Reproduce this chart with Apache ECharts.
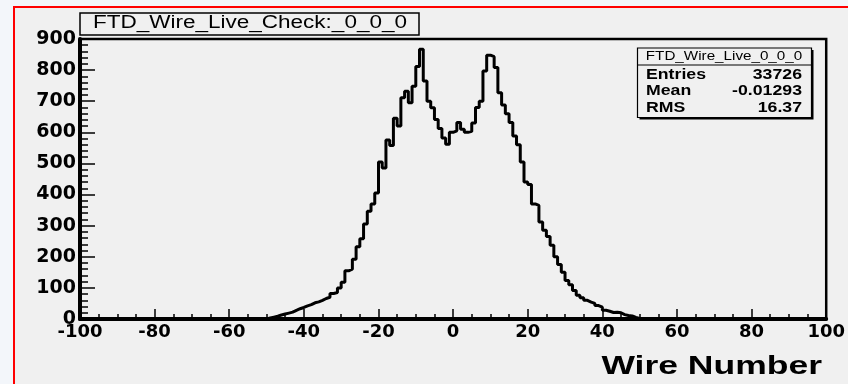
<!DOCTYPE html>
<html>
<head>
<meta charset="utf-8">
<script src="https://cdn.jsdelivr.net/npm/echarts@6/dist/echarts.min.js"></script>
<style>
html,body{margin:0;padding:0;background:#f3f6fa;}
#chart{width:848px;height:384px;}
</style>
</head>
<body>
<div id="chart"></div>
<script>
// ---- data ----
const histTitle = "FTD_Wire_Live_Check:_0_0_0";
const statsName = "FTD_Wire_Live_0_0_0";
const statsLabels = ["Entries", "Mean", "RMS"];
const statsValues = ["33726", "-0.01293", "16.37"];
const xAxisTitle = "Wire Number";
const xRange = [-100, 100];
const yRange = [0, 900];
const firstBin = -50;            // low edge of the first filled bin (bin width 1)
const binCounts = [
  3, 6, 9, 13, 16, 19, 22, 28, 33, 37,          // -50 .. -41
  42, 46, 52, 55, 60, 66, 70, 82, 85, 100,      // -40 .. -31
  118, 155, 160, 192, 232, 258, 305, 346, 370, 405, // -30 .. -21
  505, 485, 575, 558, 645, 620, 711, 732, 695, 748, // -20 .. -11
  812, 867, 765, 700, 679, 641, 612, 582, 562, 600, // -10 .. -1
  605, 632, 610, 600, 603, 630, 680, 700, 797, 848, // 0 .. 9
  843, 808, 727, 688, 660, 632, 588, 560, 505, 440, // 10 .. 19
  432, 370, 365, 312, 285, 265, 237, 200, 175, 150, // 20 .. 29
  124, 110, 92, 76, 68, 60, 54, 50, 43, 38,     // 30 .. 39
  28, 25, 21, 22, 20, 14, 11, 10, 5, 2          // 40 .. 49
];

// ---- build step data over the full axis range (empty bins = 0) ----
const stepData = [];
for (let v = xRange[0]; v < xRange[1]; v++) {
  const i = v - firstBin;
  stepData.push([v, (i >= 0 && i < binCounts.length) ? binCounts[i] : 0]);
}
stepData.push([xRange[1], 0]);

const chart = echarts.init(document.getElementById('chart'), null, {renderer: 'canvas'});
const tickFont = 'DejaVu Sans';
const boxFont = '"Liberation Sans", Arial, sans-serif';

const option = {
  animation: false,
  backgroundColor: '#f3f6fa',
  grid: {
    left: 80, right: 21, top: 39, bottom: 65,
    show: true, borderColor: '#000', borderWidth: 2.5, backgroundColor: 'transparent'
  },
  xAxis: {
    type: 'value', min: xRange[0], max: xRange[1], interval: 20,
    axisLine: {show: true, onZero: false, lineStyle: {color: '#000', width: 4}},
    axisTick: {show: true, inside: true, length: 10, lineStyle: {color: '#000', width: 1.5}},
    minorTick: {show: true, splitNumber: 4, length: 5, lineStyle: {color: '#000', width: 1.5}},
    splitLine: {show: false},
    axisLabel: {show: true, color: '#000', fontFamily: tickFont, fontWeight: 'bold', fontSize: 18, margin: 4,
                showMinLabel: true, showMaxLabel: true}
  },
  yAxis: {
    type: 'value', min: yRange[0], max: yRange[1], interval: 100,
    axisLine: {show: true, onZero: false, lineStyle: {color: '#000', width: 4}},
    axisTick: {show: true, inside: true, length: 15, lineStyle: {color: '#000', width: 1.5}},
    minorTick: {show: true, splitNumber: 5, length: 8, lineStyle: {color: '#000', width: 1.5}},
    splitLine: {show: false},
    axisLabel: {show: true, color: '#000', fontFamily: tickFont, fontWeight: 'bold', fontSize: 19, margin: 4,
                showMinLabel: true, showMaxLabel: true}
  },
  series: [{
    type: 'line',
    step: 'end',
    data: stepData,
    symbol: 'none',
    clip: true,
    lineStyle: {color: '#000', width: 3}
  }],
  graphic: [
    // canvas frame (red) with pad fill
    {type: 'rect', z: -10, shape: {x: 14, y: 7, width: 900, height: 400},
     style: {fill: '#f0f0f0', stroke: '#ff0000', lineWidth: 2}},
    // title box
    {type: 'rect', z: 10, shape: {x: 80, y: 13, width: 339, height: 22},
     style: {fill: '#f0f0f0', stroke: '#000', lineWidth: 1.5}},
    {type: 'text', z: 11, x: 250, y: 23, scaleX: 1.25,
     style: {text: histTitle, font: '18px ' + boxFont, fill: '#000',
             textAlign: 'center', textVerticalAlign: 'middle'}},
    // stats box shadow + box
    {type: 'rect', z: 10, shape: {x: 639.5, y: 50, width: 174, height: 69.5},
     style: {fill: '#000', stroke: null}},
    {type: 'rect', z: 11, shape: {x: 637.5, y: 48, width: 174, height: 69.5},
     style: {fill: '#f0f0f0', stroke: '#000', lineWidth: 1.2}},
    {type: 'line', z: 12, shape: {x1: 637.5, y1: 65, x2: 811.5, y2: 65},
     style: {stroke: '#000', lineWidth: 1.2}},
    {type: 'text', z: 12, x: 724, y: 56.5, scaleX: 1.17,
     style: {text: statsName, font: '13px ' + boxFont, fill: '#000',
             textAlign: 'center', textVerticalAlign: 'middle'}},
    {type: 'text', z: 12, x: 646, y: 74.5, scaleX: 1.18,
     style: {text: statsLabels[0], font: 'bold 15px ' + boxFont, fill: '#000',
             textAlign: 'left', textVerticalAlign: 'middle'}},
    {type: 'text', z: 12, x: 646, y: 91, scaleX: 1.18,
     style: {text: statsLabels[1], font: 'bold 15px ' + boxFont, fill: '#000',
             textAlign: 'left', textVerticalAlign: 'middle'}},
    {type: 'text', z: 12, x: 646, y: 107.5, scaleX: 1.18,
     style: {text: statsLabels[2], font: 'bold 15px ' + boxFont, fill: '#000',
             textAlign: 'left', textVerticalAlign: 'middle'}},
    {type: 'text', z: 12, x: 802, y: 74.5, scaleX: 1.18,
     style: {text: statsValues[0], font: 'bold 15px ' + boxFont, fill: '#000',
             textAlign: 'right', textVerticalAlign: 'middle'}},
    {type: 'text', z: 12, x: 802, y: 91, scaleX: 1.18,
     style: {text: statsValues[1], font: 'bold 15px ' + boxFont, fill: '#000',
             textAlign: 'right', textVerticalAlign: 'middle'}},
    {type: 'text', z: 12, x: 802, y: 107.5, scaleX: 1.18,
     style: {text: statsValues[2], font: 'bold 15px ' + boxFont, fill: '#000',
             textAlign: 'right', textVerticalAlign: 'middle'}},
    // x axis title
    {type: 'text', z: 12, x: 822, y: 367, scaleX: 1.42,
     style: {text: xAxisTitle, font: 'bold 25px ' + boxFont, fill: '#000',
             textAlign: 'right', textVerticalAlign: 'middle'}}
  ]
};
chart.setOption(option);
</script>
</body>
</html>
